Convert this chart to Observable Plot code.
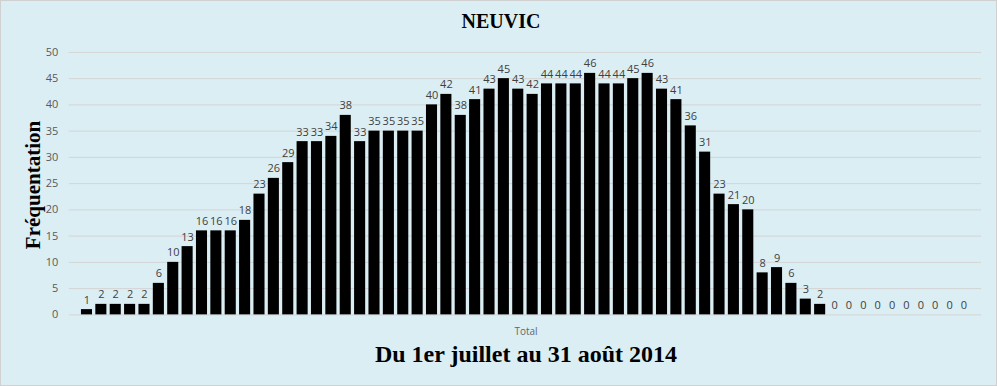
<!DOCTYPE html>
<html>
<head>
<meta charset="utf-8">
<script src="https://cdn.jsdelivr.net/npm/d3@7"></script>
<script src="https://cdn.jsdelivr.net/npm/@observablehq/plot@0.6"></script>
<style>
  html, body { margin: 0; padding: 0; background: #fff; }
  #wrap { position: relative; width: 997px; height: 386px; background: #DBEEF4; box-sizing: border-box; border: 1px solid #d0d0d0; overflow: hidden; }
  #wrap svg { position: absolute; left: -1px; top: -1px; }
  .t { position: absolute; font-family: "Liberation Serif", "DejaVu Serif", serif; font-weight: bold; color: #000; white-space: nowrap; }
  #title { left: 0; width: 1000px; text-align: center; top: 9px; font-size: 20px; }
  #ytitle { left: 32px; top: 184px; font-size: 21px; transform: translate(-50%, -50%) rotate(-90deg); }
  #xtitle { left: 525px; top: 340px; font-size: 24px; transform: translateX(-50%); }
  #total { position: absolute; left: 525px; top: 323px; transform: translateX(-50%); font-family: "Open Sans", "Liberation Sans", sans-serif; font-size: 10px; color: #666; }
</style>
</head>
<body>
<div id="wrap">
  <div id="title" class="t">NEUVIC</div>
  <div id="ytitle" class="t">Fréquentation</div>
  <div id="xtitle" class="t">Du 1er juillet au 31 août 2014</div>
  <div id="total">Total</div>
</div>
<script>
const days = d3.range(1, 63);
const values = [1,2,2,2,2,6,10,13,16,16,16,18,23,26,29,33,33,34,38,33,35,35,35,35,40,42,38,41,43,45,43,42,44,44,44,46,44,44,45,46,43,41,36,31,23,21,20,8,9,6,3,2,0,0,0,0,0,0,0,0,0,0];
const yTicks = [0,5,10,15,20,25,30,35,40,45,50];

const data = days.map((d, i) => ({day: d, value: values[i]}));

const chart = Plot.plot({
  width: 997,
  height: 386,
  marginTop: 52,
  marginBottom: 71,
  marginLeft: 69,
  marginRight: 14,
  style: {background: "transparent", fontFamily: "'Open Sans', 'Liberation Sans', sans-serif", fontSize: "11px", color: "#595959"},
  x: {type: "band", domain: days, paddingInner: 0.23, paddingOuter: 0.84, align: 0.5, round: false, axis: null},
  y: {domain: [0, 50], ticks: yTicks, label: null},
  marks: [
    Plot.gridY(yTicks.filter(t => t > 0), {stroke: "#d4d4d4", strokeOpacity: 1}),
    Plot.axisY(yTicks, {tickSize: 0, tickPadding: 11, label: null, fill: "#595959"}),
    Plot.ruleY([0], {stroke: "#d4d4d4"}),
    Plot.barY(data, {x: "day", y: "value", fill: "#000"}),
    Plot.text(data, {x: "day", y: "value", text: d => String(d.value), lineAnchor: "bottom", dy: -6, fill: "#404040", fontSize: 11})
  ]
});
document.getElementById("wrap").appendChild(chart);
</script>
</body>
</html>
